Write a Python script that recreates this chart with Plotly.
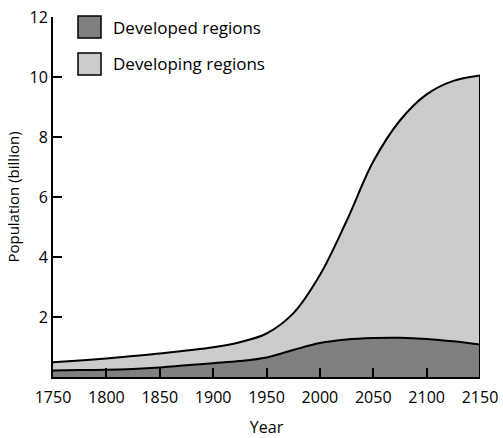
import plotly.graph_objects as go

years = [1750, 1775, 1800, 1825, 1850, 1875, 1900, 1925, 1950, 1975, 2000, 2025, 2050, 2075, 2100, 2125, 2150]
developed = [0.22, 0.23, 0.24, 0.27, 0.32, 0.39, 0.46, 0.53, 0.65, 0.90, 1.13, 1.25, 1.30, 1.31, 1.27, 1.19, 1.08]
total = [0.49, 0.55, 0.62, 0.70, 0.78, 0.88, 0.99, 1.16, 1.45, 2.12, 3.40, 5.20, 7.18, 8.55, 9.42, 9.87, 10.05]
developing = [round(t - d, 3) for t, d in zip(total, developed)]
series_names = ["Developed regions", "Developing regions"]
x_ticks = [1750, 1800, 1850, 1900, 1950, 2000, 2050, 2100, 2150]
y_ticks = [2, 4, 6, 8, 10, 12]

FONT = "Open Sans"
DARK = "#808080"
LIGHT = "#cccccc"

L, R, T, B = 53, 23, 17, 61
W, H = 503, 438
PW, PH = W - L - R, H - T - B

fig = go.Figure()
fig.add_trace(go.Scatter(x=years, y=developed, stackgroup="one", mode="lines",
                         line=dict(color="black", width=2, shape="spline", smoothing=1.0),
                         fillcolor=DARK, name=series_names[0], showlegend=False))
fig.add_trace(go.Scatter(x=years, y=developing, stackgroup="one", mode="lines",
                         line=dict(color="black", width=2, shape="spline", smoothing=1.0),
                         fillcolor=LIGHT, name=series_names[1], showlegend=False))
# right closing edge of the area
fig.add_trace(go.Scatter(x=[years[-1], years[-1]], y=[0, developed[-1] + developing[-1]],
                         mode="lines", line=dict(color="black", width=2),
                         showlegend=False, hoverinfo="skip"))

def px2paper_x(px):
    return (px - L) / PW

def px2paper_y(py):
    return (H - B - py) / PH

shapes = []
annotations = []
for i, (col, name) in enumerate(zip([DARK, LIGHT], series_names)):
    top = 16 + i * 37
    shapes.append(dict(type="rect", xref="paper", yref="paper",
                       x0=px2paper_x(78), x1=px2paper_x(101),
                       y0=px2paper_y(top + 22), y1=px2paper_y(top),
                       fillcolor=col, line=dict(color="black", width=1.5)))
    annotations.append(dict(xref="paper", yref="paper", x=px2paper_x(111),
                            y=px2paper_y(top + 11), text=name, showarrow=False,
                            xanchor="left", yanchor="middle",
                            font=dict(family=FONT, size=17, color="black")))

fig.update_layout(
    width=W, height=H,
    margin=dict(l=L, r=R, t=T, b=B),
    paper_bgcolor="white", plot_bgcolor="white",
    shapes=shapes, annotations=annotations,
    font=dict(family=FONT, size=16, color="black"),
    xaxis=dict(range=[1750, 2150], tickvals=x_ticks, ticks="inside", ticklen=9,
               tickwidth=1.5, tickcolor="black", showline=True, linecolor="black",
               linewidth=2, showgrid=False, zeroline=False, automargin=False,
               ticklabelstandoff=5,
               title=dict(text="Year", font=dict(family=FONT, size=16), standoff=18),
               tickfont=dict(family=FONT, size=16)),
    yaxis=dict(range=[0, 12], tickvals=y_ticks, ticks="inside", ticklen=9,
               tickwidth=1.5, tickcolor="black", showline=True, linecolor="black",
               linewidth=2, showgrid=False, zeroline=False, automargin=False,
               title=dict(text="Population (billion)", font=dict(family=FONT, size=15), standoff=6),
               tickfont=dict(family=FONT, size=16)),
)

fig.write_html("out.html", config={"displayModeBar": False},
               post_script="document.body.style.margin='0px';")
